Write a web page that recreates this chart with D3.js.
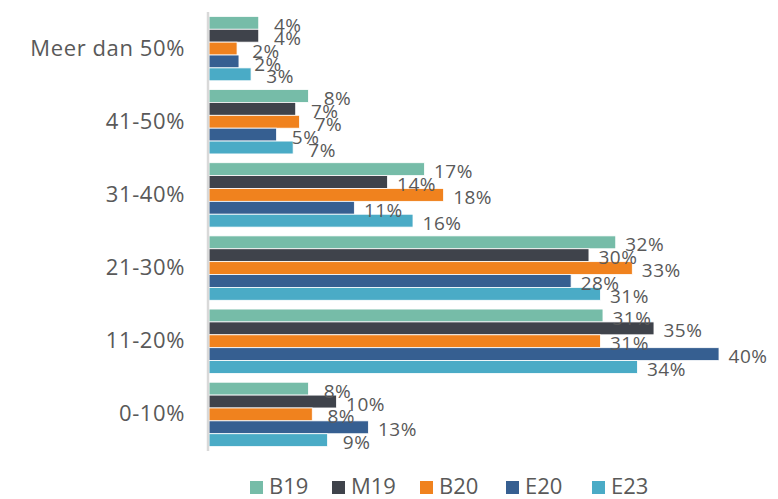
<!DOCTYPE html>
<html><head><meta charset="utf-8">
<script src="https://cdn.jsdelivr.net/npm/d3@7"></script>
<style>body{margin:0;background:#fff;}svg{display:block;font-family:"Open Sans",sans-serif;}</style>
</head><body><svg id="c" width="778" height="499"></svg>
<script>
const categories = ["Meer dan 50%","41-50%","31-40%","21-30%","11-20%","0-10%"];
const seriesNames = ["B19","M19","B20","E20","E23"];
const B19 = [3.9, 7.8, 16.9, 31.9, 30.9, 7.8];
const M19 = [3.9, 6.8, 14.0, 29.8, 34.9, 10.0];
const B20 = [2.2, 7.1, 18.4, 33.2, 30.7, 8.1];
const E20 = [2.35, 5.3, 11.4, 28.4, 40.0, 12.5];
const E23 = [3.3, 6.6, 16.0, 30.7, 33.6, 9.3];
const colors = ["#76bca8","#3f434b","#f0821e","#365f91","#4aabc6"];
const series = [B19, M19, B20, E20, E23];

(function(){
const svg = d3.select("#c");
const left = 209, plotTop = 12, plotBottom = 451;
const x = d3.scaleLinear().domain([0, 40]).range([left, 719]);
const y0 = d3.scaleBand().domain(categories).range([plotTop, plotBottom]).paddingInner(0.12).paddingOuter(0.06);
const y1 = d3.scaleBand().domain(seriesNames).range([0, y0.bandwidth()]).padding(0);

const g = svg.append("g");
categories.forEach((c, ci) => {
  seriesNames.forEach((s, si) => {
    const v = series[si][ci];
    g.append("rect")
      .attr("x", x(0)).attr("y", y0(c) + y1(s))
      .attr("width", x(v) - x(0)).attr("height", y1.bandwidth())
      .attr("fill", colors[si]).attr("stroke", "#fff").attr("stroke-width", 0.8);
  });
});
categories.forEach((c, ci) => {
  seriesNames.forEach((s, si) => {
    const v = series[si][ci];
    g.append("text")
      .attr("x", x(v) + 29).attr("y", y0(c) + y1(s) + y1.bandwidth()/2 + 4)
      .attr("text-anchor", "middle").attr("dominant-baseline", "middle")
      .attr("font-size", 19).attr("fill", "#595959").attr("letter-spacing", 0.5)
      .text(Math.round(v) + "%");
  });
});

svg.append("line").attr("x1", 208).attr("x2", 208).attr("y1", plotTop).attr("y2", plotBottom)
  .attr("stroke", "#d9d9d9").attr("stroke-width", 2.5);

const yAxis = d3.axisLeft(y0).tickSize(0).tickPadding(24);
const ya = svg.append("g").attr("transform", `translate(${left},0)`).call(yAxis);
ya.select(".domain").remove();
ya.selectAll("text").attr("font-size", 22).attr("fill", "#595959").attr("letter-spacing", 0.6)
  .attr("font-family", "'Open Sans',sans-serif");

const legendX = [250, 332, 420, 506, 592];
const lg = svg.append("g");
seriesNames.forEach((s, i) => {
  lg.append("rect").attr("x", legendX[i]).attr("y", 481).attr("width", 13).attr("height", 13).attr("fill", colors[i]);
  lg.append("text").attr("x", legendX[i] + 19).attr("y", 488).attr("dominant-baseline", "middle")
    .attr("font-size", 22).attr("fill", "#595959").text(s);
});
})();
</script></body></html>
